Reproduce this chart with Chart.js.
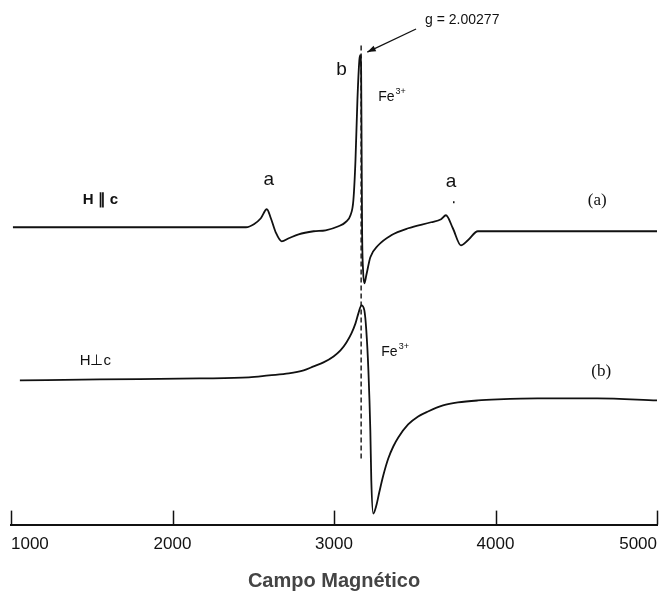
<!DOCTYPE html>
<html>
<head>
<meta charset="utf-8">
<script src="https://cdn.jsdelivr.net/npm/chart.js@4.4.1/dist/chart.umd.min.js"></script>
<style>
  html, body { margin: 0; padding: 0; background: #fff; }
  #wrap { width: 667px; height: 605px; }
</style>
</head>
<body>
<div id="wrap"><canvas id="epr"></canvas></div>
<script>
// EPR spectrum, field in gauss, signal in arbitrary units (curves offset)
// (a) H parallel to c
const fieldA = [1012, 1549, 2165, 2455, 2504, 2547, 2584, 2609, 2639, 2676, 2720, 2781,
  2874, 2948, 3028, 3071, 3102, 3120, 3133, 3145, 3157, 3163, 3168, 3171, 3174, 3180, 3188, 3200,
  3225, 3274, 3354, 3459, 3601, 3663, 3693, 3736, 3786, 3829, 3891, 4137, 4630, 5000];
const signalA = [297, 297, 297, 297, 300, 306, 315, 306, 292, 283, 286, 290,
  293, 294, 298, 302, 309, 324, 364, 424, 464, 469, 454, 374, 294, 254, 241, 249,
  267, 279, 289, 296, 302, 305, 309, 296, 279, 284, 293, 293, 293, 293];

// (b) H perpendicular to c
const fieldB = [1055, 1549, 2165, 2473, 2597, 2720, 2812, 2874, 2935, 2997, 3040, 3077, 3108,
  3133, 3151, 3170, 3188, 3200, 3213, 3225, 3231, 3243, 3262, 3280, 3305, 3336, 3367, 3398,
  3459, 3521, 3582, 3675, 3767, 3891, 4014, 4260, 4630, 5000];
const signalB = [144, 145, 146, 147, 149, 151, 154, 158, 162, 168, 174, 182, 191,
  201, 211, 219, 214, 194, 154, 94, 44, 11, 19, 32, 49, 66, 78, 87,
  100, 108, 113, 119, 122, 124, 125, 126, 126, 124];

// g = 2.00277 marker
const gLineField = [3168, 3168];
const gLineSignal = [66, 481];

const fieldTicks = [1000, 2000, 3000, 4000, 5000];

const ink = '#111';
const sans = '"Liberation Sans", Arial, sans-serif';
const serif = '"Liberation Serif", "Times New Roman", serif';

function toPoints(xs, ys) {
  return xs.map((v, i) => ({ x: v, y: ys[i] }));
}

// text labels placed in field / signal units
const labels = [
  { text: 'g = 2.00277', x: 3564, y: 504, align: 'left', font: '14px ' + sans },
  { text: 'b', x: 3046, y: 454, align: 'center', font: '19px ' + sans },
  { text: 'Fe', sup: '3+', x: 3274, y: 427, align: 'left', font: '14px ' + sans },
  { text: 'a', x: 2596, y: 344, align: 'center', font: '19px ' + sans },
  { text: 'a', x: 3724, y: 342, align: 'center', font: '19px ' + sans },
  { text: 'H \u2225 c', x: 1444, y: 324, align: 'left', font: 'bold 15px ' + sans },
  { text: '(a)', x: 4630, y: 324, align: 'center', font: '17px ' + serif },
  { text: 'H\u22A5c', x: 1425, y: 164, align: 'left', font: '15px ' + sans },
  { text: 'Fe', sup: '3+', x: 3293, y: 172, align: 'left', font: '14px ' + sans },
  { text: '(b)', x: 4655, y: 153, align: 'center', font: '17px ' + serif }
];

// tick marks stand up from the axis line
const upTicks = {
  id: 'upTicks',
  afterDatasetsDraw(chart) {
    const { ctx, chartArea } = chart;
    const x = chart.scales.x;
    ctx.save();
    ctx.strokeStyle = ink;
    ctx.lineWidth = 1.5;
    fieldTicks.forEach(v => {
      const px = Math.round(x.getPixelForValue(v)) + 0.5;
      ctx.beginPath();
      ctx.moveTo(px, chartArea.bottom);
      ctx.lineTo(px, chartArea.bottom - 14);
      ctx.stroke();
    });
    ctx.restore();
  }
};

const annotations = {
  id: 'annotations',
  afterDraw(chart) {
    const { ctx } = chart;
    const x = chart.scales.x, y = chart.scales.y;
    ctx.save();
    ctx.fillStyle = ink;
    ctx.textBaseline = 'middle';
    labels.forEach(l => {
      const px = x.getPixelForValue(l.x);
      const py = y.getPixelForValue(l.y);
      ctx.font = l.font;
      ctx.textAlign = l.align;
      ctx.fillText(l.text, px, py);
      if (l.sup) {
        const w = ctx.measureText(l.text).width;
        ctx.font = '9px ' + sans;
        ctx.textAlign = 'left';
        ctx.fillText(l.sup, px + w + 1, py - 6);
      }
    });

    // small mark under the second "a"
    ctx.fillRect(x.getPixelForValue(3737), y.getPixelForValue(323), 1.5, 2);

    // arrow to the g line
    const x0 = x.getPixelForValue(3508), y0 = y.getPixelForValue(495);
    const x1 = x.getPixelForValue(3206), y1 = y.getPixelForValue(472);
    const ang = Math.atan2(y1 - y0, x1 - x0);
    ctx.strokeStyle = ink;
    ctx.lineWidth = 1.3;
    ctx.beginPath();
    ctx.moveTo(x0, y0);
    ctx.lineTo(x1, y1);
    ctx.stroke();
    ctx.beginPath();
    ctx.moveTo(x1, y1);
    ctx.lineTo(x1 - 9 * Math.cos(ang - 0.35), y1 - 9 * Math.sin(ang - 0.35));
    ctx.lineTo(x1 - 9 * Math.cos(ang + 0.35), y1 - 9 * Math.sin(ang + 0.35));
    ctx.closePath();
    ctx.fill();
    ctx.restore();
  }
};

const lineStyle = {
  borderColor: ink,
  borderWidth: 1.8,
  pointRadius: 0,
  fill: false,
  cubicInterpolationMode: 'monotone'
};

new Chart(document.getElementById('epr'), {
  type: 'line',
  data: {
    datasets: [
      Object.assign({ label: 'H || c', data: toPoints(fieldA, signalA) }, lineStyle),
      Object.assign({ label: 'H \u22A5 c', data: toPoints(fieldB, signalB) }, lineStyle),
      {
        label: 'g = 2.00277',
        data: toPoints(gLineField, gLineSignal),
        borderColor: ink,
        borderWidth: 1.4,
        borderDash: [5, 3],
        pointRadius: 0
      }
    ]
  },
  options: {
    responsive: true,
    maintainAspectRatio: false,
    animation: false,
    events: [],
    layout: { padding: { left: 11, right: 7, top: 0, bottom: 8 } },
    plugins: {
      legend: { display: false },
      tooltip: { enabled: false }
    },
    scales: {
      x: {
        type: 'linear',
        min: 1000,
        max: 5000,
        afterBuildTicks: s => { s.ticks = fieldTicks.map(v => ({ value: v })); },
        grid: { display: false, drawTicks: false },
        border: { display: true, color: ink, width: 2 },
        ticks: {
          align: 'inner',
          color: ink,
          maxRotation: 0,
          padding: 10,
          font: { family: sans, size: 17 },
          callback: v => String(v)
        },
        title: {
          display: true,
          text: 'Campo Magnético',
          color: '#444',
          padding: { top: 4, bottom: 4 },
          font: { family: sans, size: 20, weight: 'bold' }
        }
      },
      y: {
        display: false,
        min: 0,
        max: 524
      }
    }
  },
  plugins: [upTicks, annotations]
});
</script>
</body>
</html>
